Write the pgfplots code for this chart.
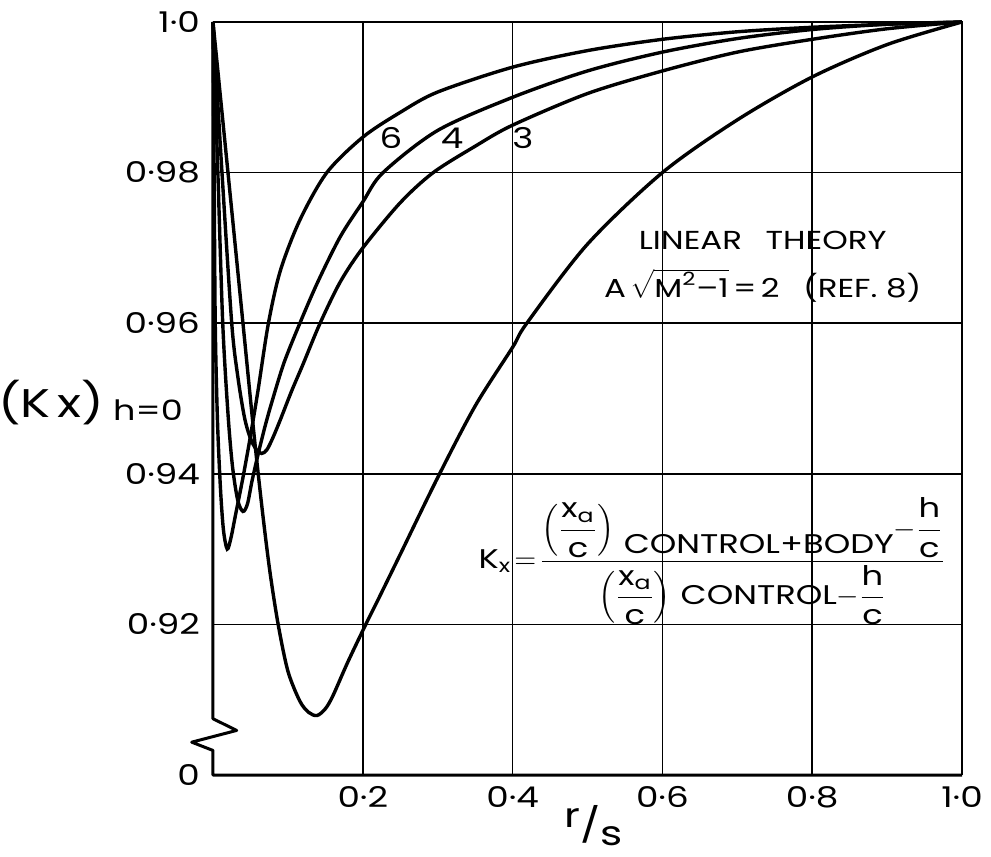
\documentclass[border=0pt]{standalone}
\usepackage{fontspec}
\setmainfont{Poppins}[FakeStretch=1.25]
\usepackage{amsmath}
\usepackage{pgfplots}
\pgfplotsset{compat=1.18}
\begin{document}
\begin{tikzpicture}[x=1pt,y=1pt]
\path[use as bounding box] (-106.5,-41) rectangle (389,387.5);
\begin{axis}[at={(0,0)},anchor=south west,scale only axis,
  width=374.5pt,height=376.5pt,
  xmin=0,xmax=1,ymin=0.9,ymax=1,clip=false,
  axis line style={draw=none},major tick length=0pt,
  xtick={0.2,0.4,0.6,0.8,1.0},xticklabels={0·2,0·4,0·6,0·8,1·0},
  ytick={0.9,0.92,0.94,0.96,0.98,1.0},yticklabels={0,0·92,0·94,0·96,0·98,1·0},
  grid=major,grid style={black,line width=0.9pt},
  tick label style={font=\fontsize{14.3}{17}\selectfont},
  xticklabel style={yshift=-2pt},yticklabel style={xshift=-3pt}]
% frame with axis break
\draw[line width=1.5pt,line join=round] (axis cs:0,1) -- (axis cs:0,0.90747) -- (axis cs:0.0316,0.90592) -- (axis cs:-0.0284,0.90436) -- (axis cs:0,0.90326) -- (axis cs:0,0.9) -- (axis cs:1,0.9);
\draw[line width=1.1pt] (axis cs:0,1) -- (axis cs:1,1) -- (axis cs:1,0.9);
% curve 6
\addplot[black,line width=1.7pt,smooth,tension=0.5] coordinates {
(0,1.0) (0.0015,0.98) (0.003,0.96) (0.006,0.947) (0.010,0.938) (0.014,0.9325) (0.019,0.930) (0.024,0.9315) (0.030,0.9345) (0.040,0.9395) (0.050,0.945) (0.060,0.9510) (0.074,0.960) (0.090,0.967) (0.116,0.9737) (0.152,0.980) (0.2,0.9847) (0.25,0.988) (0.3,0.9907) (0.4,0.9940) (0.5,0.9962) (0.6,0.9977) (0.7,0.9987) (0.8,0.9993) (0.9,0.9997) (1,1)};
% curve 4
\addplot[black,line width=1.7pt,smooth,tension=0.5] coordinates {
(0,1) (0.0065,0.98) (0.013,0.96) (0.020,0.948) (0.026,0.941) (0.033,0.9365) (0.040,0.935) (0.046,0.936) (0.052,0.939) (0.060,0.9425) (0.070,0.9465) (0.080,0.950) (0.095,0.9548) (0.116,0.9600) (0.140,0.9655) (0.170,0.9715) (0.200,0.9761) (0.227,0.9800) (0.3,0.9856) (0.4,0.9900) (0.5,0.9935) (0.6,0.9960) (0.7,0.9978) (0.8,0.9990) (0.9,0.9997) (1,1)};
% curve 3
\addplot[black,line width=1.7pt,smooth,tension=0.5] coordinates {
(0,1) (0.012,0.98) (0.025,0.96) (0.033,0.953) (0.042,0.9475) (0.050,0.9447) (0.058,0.9432) (0.065,0.9427) (0.072,0.9432) (0.080,0.9448) (0.090,0.9472) (0.105,0.951) (0.120,0.9545) (0.143,0.9600) (0.170,0.9655) (0.200,0.9700) (0.250,0.9760) (0.294,0.9800) (0.350,0.9835) (0.4,0.9863) (0.5,0.9905) (0.6,0.9935) (0.7,0.9960) (0.8,0.9977) (0.9,0.9991) (1,1)};
% linear theory curve
\addplot[black,line width=1.7pt,smooth,tension=0.5] coordinates {
(0,1) (0.02,0.98) (0.04,0.96) (0.055,0.945) (0.066,0.935) (0.076,0.927) (0.087,0.920) (0.100,0.9138) (0.116,0.9098) (0.128,0.9083) (0.139,0.9079) (0.150,0.9088) (0.160,0.9105) (0.180,0.9150) (0.204,0.9200) (0.220,0.9232) (0.25,0.9293) (0.3,0.9395) (0.35,0.9490) (0.4,0.9568) (0.419,0.9600) (0.5,0.9705) (0.6,0.9800) (0.7,0.9870) (0.8,0.9927) (0.9,0.9970) (1,1)};
% labels
\node[font=\fontsize{14.3}{16}\selectfont,inner sep=0pt] at (axis cs:0.2377,0.9846) {6};
\node[font=\fontsize{14.3}{16}\selectfont,inner sep=0pt] at (axis cs:0.3191,0.9846) {4};
\node[font=\fontsize{14.3}{16}\selectfont,inner sep=0pt] at (axis cs:0.4139,0.9846) {3};
\node[font=\fontsize{13}{15}\selectfont,inner sep=0pt] at (axis cs:0.734,0.9710) {LINEAR\hspace{0.9em}THEORY};
\node[font=\fontsize{13}{15}\selectfont,inner sep=0pt] at (axis cs:0.734,0.9650) {A\,$\sqrt{\text{M}^{\text{2}}\text{–1}}$\,=\,2\hspace{0.9em}(REF. 8)};
\node[font=\fontsize{13.5}{15}\selectfont,inner sep=0pt] at (axis cs:0.666,0.92837) {$\text{K}_{\text{x}}\!=\!\dfrac{\left(\dfrac{\text{x}_{\text{a}}}{\text{c}}\right)\,\raisebox{-1.1ex}{CONTROL+BODY}{-}\dfrac{\text{h}}{\text{c}}}{\left(\dfrac{\text{x}_{\text{a}}}{\text{c}}\right)\,\text{CONTROL}{-}\dfrac{\text{h}}{\text{c}}}$};
\node[font=\fontsize{20}{22}\selectfont,inner sep=0pt] at (axis cs:-0.2163,0.9495) {(K\,x)};
\node[font=\fontsize{14}{16}\selectfont,inner sep=0pt] at (axis cs:-0.0868,0.9484) {h=0};
\node[font=\fontsize{17}{20}\selectfont,inner sep=0pt,anchor=south] at (axis cs:0.5087,0.8906) {\raisebox{0.3em}{r}/\raisebox{-0.22em}{s}};
\end{axis}
\end{tikzpicture}
\end{document}
